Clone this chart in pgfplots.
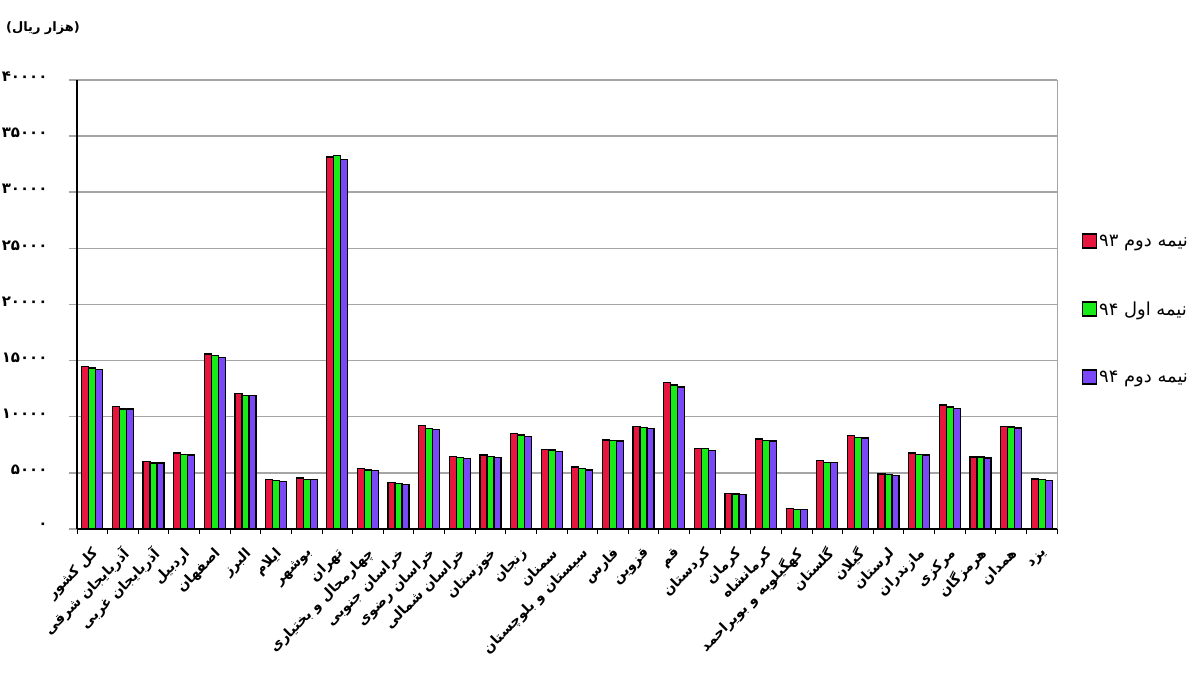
\documentclass[border=0pt]{standalone}
\usepackage{pgfplots}
\pgfplotsset{compat=1.18}
\usepackage{pgfplotstable}
\usepackage{fontspec}
\newfontfamily\arabicfont[Script=Arabic]{DejaVu Sans}
\TeXXeTstate=1
\definecolor{redc}{RGB}{230,22,62}
\definecolor{grnc}{RGB}{24,236,24}
\definecolor{purc}{RGB}{122,72,246}
\definecolor{gridc}{RGB}{165,165,165}

% x: province index, a: nime dovom 93, b: nime aval 94, c: nime dovom 94
\pgfplotstableread{
x a b c
0 14470 14330 14180
1 10920 10680 10680
2 6030 5880 5880
3 6770 6650 6590
4 15600 15450 15300
5 12100 11890 11870
6 4400 4310 4250
7 4550 4400 4400
8 33140 33290 32930
9 5380 5260 5200
10 4120 4080 3980
11 9200 8960 8870
12 6470 6360 6270
13 6590 6440 6360
14 8490 8370 8250
15 7070 7040 6890
16 5530 5380 5260
17 7930 7900 7840
18 9140 9050 8960
19 13080 12840 12640
20 7160 7160 7010
21 3160 3130 3070
22 8020 7900 7840
23 1820 1760 1760
24 6090 5940 5910
25 8310 8160 8100
26 4900 4840 4760
27 6770 6650 6590
28 11040 10860 10740
29 6420 6420 6330
30 9110 9080 9000
31 4460 4400 4340
}\datatable

\begin{document}
\begin{tikzpicture}
\useasboundingbox (0,0) rectangle (1200bp,675bp);
\begin{axis}[
    at={(77bp,146bp)}, anchor=south west,
    width=980bp, height=449bp, scale only axis,
    ybar=0pt, bar width=7bp,
    xmin=-0.5, xmax=31.5,
    ymin=0, ymax=40000,
    scaled y ticks=false,
    axis lines*=left,
    axis line style={black, line width=1.6bp},
    clip=false,
    tick align=outside,
    xtick={0,...,31},
    minor xtick={-0.5,0.5,...,31.5},
    major x tick style={draw=none},
    minor x tick style={black, line width=0.8bp},
    minor tick length=5bp,
    major tick length=8bp,
    major y tick style={gridc, line width=1.5bp},
    ytick={0,5000,10000,15000,20000,25000,30000,35000,40000},
    yticklabels={۰,۵۰۰۰,۱۰۰۰۰,۱۵۰۰۰,۲۰۰۰۰,۲۵۰۰۰,۳۰۰۰۰,۳۵۰۰۰,۴۰۰۰۰},
    yticklabel style={font=\arabicfont\bfseries\fontsize{15}{15}\selectfont, xshift=-18bp, yshift=3bp},
    ymajorgrids=true,
    grid style={gridc, line width=1.5bp},
    xticklabels={
        \beginR کل کشور\endR,
        \beginR آذربایجان شرقی\endR,
        \beginR آذربایجان غربی\endR,
        \beginR اردبیل\endR,
        \beginR اصفهان\endR,
        \beginR البرز\endR,
        \beginR ایلام\endR,
        \beginR بوشهر\endR,
        \beginR تهران\endR,
        \beginR چهارمحال و بختیاری\endR,
        \beginR خراسان جنوبی\endR,
        \beginR خراسان رضوی\endR,
        \beginR خراسان شمالی\endR,
        \beginR خوزستان\endR,
        \beginR زنجان\endR,
        \beginR سمنان\endR,
        \beginR سیستان و بلوچستان\endR,
        \beginR فارس\endR,
        \beginR قزوین\endR,
        \beginR قم\endR,
        \beginR کردستان\endR,
        \beginR کرمان\endR,
        \beginR کرمانشاه\endR,
        \beginR کهگیلویه و بویراحمد\endR,
        \beginR گلستان\endR,
        \beginR گیلان\endR,
        \beginR لرستان\endR,
        \beginR مازندران\endR,
        \beginR مرکزی\endR,
        \beginR هرمزگان\endR,
        \beginR همدان\endR,
        \beginR یزد\endR
    },
    xticklabel style={font=\arabicfont\bfseries\fontsize{14}{15}\selectfont,
        xshift=6bp, yshift=-12bp, rotate=45, anchor=east},
    legend image code/.code={\draw[#1, line width=1.4bp] (0bp,-7bp) rectangle (14bp,7bp);},
    legend style={draw=none, fill=none, at={(1.022,0.665)}, anchor=north west,
        row sep=50bp, font=\arabicfont\fontsize{18}{19}\selectfont,
        /tikz/every even column/.append style={column sep=3bp}},
    legend cell align=left,
]
\addplot[fill=redc, draw=black, line width=1.3bp] table[x=x, y=a] {\datatable};
\addplot[fill=grnc, draw=black, line width=1.3bp] table[x=x, y=b] {\datatable};
\addplot[fill=purc, draw=black, line width=1.3bp] table[x=x, y=c] {\datatable};
\legend{\beginR نیمه دوم ۹۳\endR, \beginR نیمه اول ۹۴\endR, \beginR نیمه دوم ۹۴\endR}
\draw[gridc, line width=1bp] (rel axis cs:1,0) -- (rel axis cs:1,1);
\node[font=\arabicfont\bfseries\fontsize{13}{14}\selectfont] at (rel axis cs:-0.0347,1.116) {\beginR(هزار ریال)\endR};
\end{axis}
\end{tikzpicture}
\end{document}
